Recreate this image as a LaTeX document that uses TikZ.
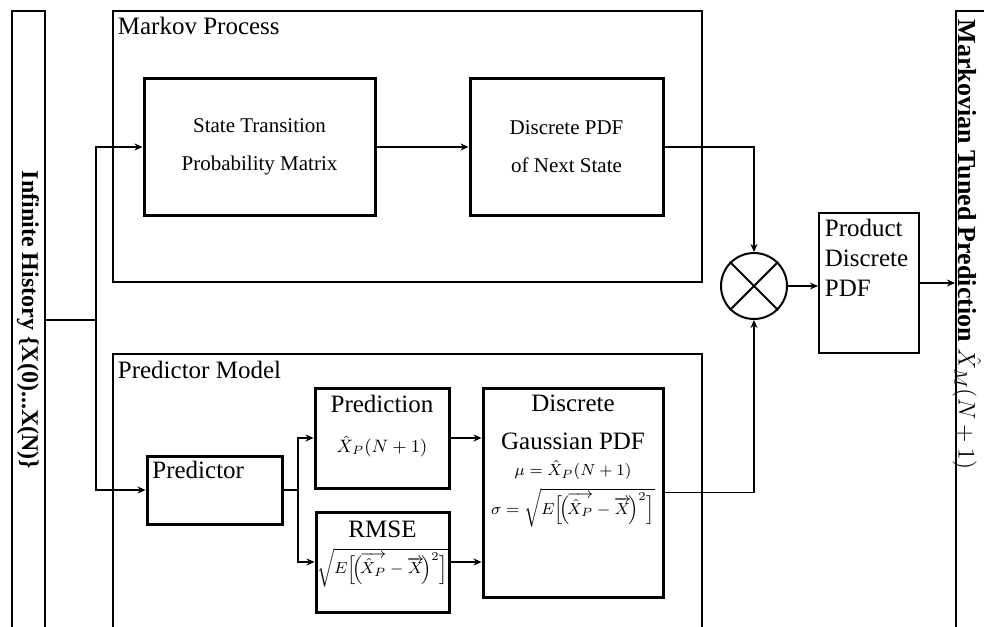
\documentclass[tikz,border=0pt]{standalone}
\usepackage{amsmath}
\usepackage{fontspec}
\setmainfont{Liberation Serif}
\usetikzlibrary{arrows.meta}
\usetikzlibrary{positioning}
\tikzstyle{frame} = [draw, line width=1pt, inner sep=0pt]
\tikzstyle{block} = [draw, line width=1.5pt, inner sep=0pt]
\tikzstyle{thinblock} = [draw, line width=1pt, inner sep=0pt]
\newcommand{\bigtxt}{\fontsize{12.5}{15}\selectfont}
\newcommand{\smalltxt}{\fontsize{10.5}{13}\selectfont}
\newcommand{\rmsefrac}{\sqrt{E\Bigl[\!\Bigl(\!\overrightarrow{\hat{X}_P}-\overrightarrow{X}\!\Bigr)^{2}\Bigr]}}

\begin{document}
\begin{tikzpicture}[x=0.5pt,y=-0.5pt,line width=0.9pt,>={Stealth[length=4pt,width=3.5pt]}]
    \useasboundingbox (0,0) rectangle (984,626);
    \clip (0,0) rectangle (984,626);

    % outer frames
    \node[frame, minimum width=294.5pt, minimum height=135.5pt, anchor=north west] (markov) at (112,10) {};
    \node[anchor=north west, inner sep=0pt, font=\bigtxt] (markovlabel) at (117,16) {Markov Process};
    \node[frame, minimum width=294.5pt, minimum height=143.5pt, anchor=north west] (model) at (112,353) {};
    \node[anchor=north west, inner sep=0pt, font=\bigtxt] (modellabel) at (117,360) {Predictor Model};

    % input and output columns
    \node[frame, minimum width=16.5pt, minimum height=315pt, anchor=north west] (hist) at (11,10) {};
    \node[rotate=-90, inner sep=0pt, font=\bfseries\fontsize{12}{14}\selectfont] (histlabel) at (28,320) {Infinite History \{X(0)...X(N)\}};
    \node[frame, minimum width=22.5pt, minimum height=315pt, anchor=north west] (out) at (955,10) {};
    \node[rotate=-90, anchor=west, inner sep=0pt, font=\bfseries\fontsize{13}{15}\selectfont] (outlabel) at (967,19) {Markovian Tuned Prediction \textmd{$\hat{X}_M(N+1)$}};

    % markov branch
    \node[block, minimum width=115.5pt, minimum height=68pt, align=center, font=\smalltxt] (stpm) at (259.5,147) {State Transition\\[6pt]Probability Matrix};
    \node[block, minimum width=96.5pt, minimum height=68pt, align=center, font=\smalltxt] (nextpdf) at (566.5,147) {Discrete PDF\\[6pt]of Next State};

    % predictor branch
    \node[block, minimum width=67.5pt, minimum height=34pt,
          label={[anchor=north west, inner sep=3pt, font=\bigtxt]north west:Predictor}] (predictor) at (214.5,490) {};
    \node[block, minimum width=67pt, minimum height=50pt,
          label={[anchor=north, align=center, inner sep=4pt, font=\bigtxt]north:{Prediction\\[5pt]{\small$\hat{X}_P(N+1)$}}}] (prediction) at (382,438) {};
    \node[block, minimum width=66.5pt, minimum height=50pt,
          label={[anchor=north, align=center, inner sep=5pt, font=\bigtxt]north:{RMSE\\[3pt]{\footnotesize$\rmsefrac$}}}] (rmse) at (382.5,562) {};
    \node[block, minimum width=90pt, minimum height=104.5pt,
          label={[anchor=north, align=center, inner sep=4pt, font=\bigtxt]north:{Discrete\\[4pt]Gaussian PDF\\[-2pt]{\footnotesize$\mu=\hat{X}_P(N+1)$}\\[3pt]{\footnotesize$\sigma=\rmsefrac$}}}] (gauss) at (573,492.5) {};

    % product
    \node[draw, circle, line width=1pt, minimum size=33pt, inner sep=0pt] (mult) at (754,286) {};
    \draw[line width=1pt] (mult.north east) -- (mult.south west);
    \draw[line width=1pt] (mult.north west) -- (mult.south east);
    \node[thinblock, minimum width=50pt, minimum height=70pt,
          label={[anchor=north west, align=left, inner sep=3pt, font=\bigtxt]north west:{Product\\Discrete\\PDF}}] (product) at (869,283) {};

    % connectors
    \coordinate (split) at (96,320);
    \coordinate (fork) at (298,490);
    \draw (hist.east |- split) -- (split);
    \draw[->] (split) |- (stpm.west);
    \draw[->] (split) |- (predictor.west);
    \draw[->] (stpm) -- (nextpdf);
    \draw[->] (nextpdf.east) -| (mult.north);
    \draw (predictor.east) -- (fork);
    \draw[->] (fork) |- (prediction.west);
    \draw[->] (fork) |- (rmse.west);
    \draw[->] (prediction.east) -- (prediction.east -| gauss.west);
    \draw[->] (rmse.east) -- (rmse.east -| gauss.west);
    \draw[->] (gauss.east) -| (mult.south);
    \draw[->] (mult.east) -- (mult.east -| product.west);
    \draw[->] (product.east) -- (product.east -| out.west);
\end{tikzpicture}
\end{document}
